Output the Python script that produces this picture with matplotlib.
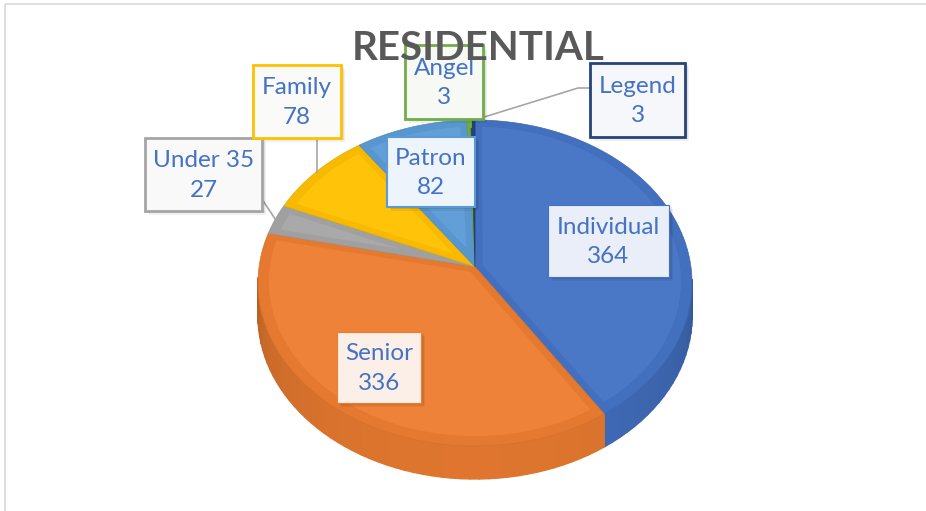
import numpy as np
import matplotlib.pyplot as plt
from matplotlib.collections import PolyCollection
from matplotlib.colors import to_rgb
from matplotlib.patches import Polygon, Rectangle

# data
categories = ["Individual", "Senior", "Under 35", "Family", "Patron", "Angel", "Legend"]
values = [364, 336, 27, 78, 82, 3, 3]
slice_colors = ["#4472C4", "#ED7D31", "#A5A5A5", "#FFC000", "#5B9BD5", "#70AD47", "#264478"]
title = "RESIDENTIAL"

# layout (pixels, origin top-left)
W, H = 926, 511
CX, CY, RX, RY = 475, 283, 217, 163
DEPTH = 33
TILT = 0.1

# label boxes: x0, y0, x1, y1
label_boxes = [
    (548, 205, 669, 277),
    (337, 332, 421, 403),
    (145, 138, 262, 211),
    (253, 65, 341, 138),
    (387, 137, 475, 207),
    (405, 45, 483, 119),
    (590, 63, 685, 137),
]
box_fills = ["#E9EEF8", "#FBEFE8", "#F9F9F9", "#FAFAF8", "#EEF4FB", "#F6F9F4", "#F5F7FB"]
box_edges = ["#4472C4", "#ED7D31", "#A5A5A5", "#FFC000", "#5B9BD5", "#70AD47", "#264478"]
box_lw = [0.8, 0.8, 2.0, 2.0, 1.5, 2.0, 2.0]
leader = [False, False, True, True, False, True, True]

LABEL_COLOR = "#4472C4"
FONT = "Lato"


def project(u, v):
    """circle plane (u right, v far) -> image pixels with a bit of perspective"""
    den = 1 + TILT * v
    X = np.sqrt(1 - TILT ** 2) * u / den
    Y = (v + TILT) / den
    return CX + RX * X, CY - RY * Y, Y


def shade(color, f):
    r, g, b = to_rgb(color)
    return (r * f, g * f, b * f)


def lighten(color, t):
    r, g, b = to_rgb(color)
    return (r + (1 - r) * t, g + (1 - g) * t, b + (1 - b) * t)


fig = plt.figure(figsize=(W / 100, H / 100), dpi=100)
ax = fig.add_axes([0, 0, 1, 1])
ax.set_xlim(0, W)
ax.set_ylim(H, 0)
ax.axis("off")

ax.add_patch(Rectangle((5, 4), W, H, fill=False, edgecolor="#D9D9D9", linewidth=1.2))

total = float(sum(values))
bounds = np.concatenate([[0], np.cumsum(values)]) / total * 2 * np.pi

# front wall
quads = []
quad_colors = []
for i in range(len(values)):
    th = np.linspace(bounds[i], bounds[i + 1], 60)
    x, y, Y = project(np.sin(th), np.cos(th))
    for k in range(len(th) - 1):
        if Y[k] > 0.005 and Y[k + 1] > 0.005:
            continue
        quads.append([(x[k], y[k]), (x[k + 1], y[k + 1]),
                      (x[k + 1], y[k + 1] + DEPTH), (x[k], y[k] + DEPTH)])
        ang = np.arctan2(-(y[k] - CY) / RY, (x[k] - CX) / RX)
        f = 0.76 + 0.18 * max(0.0, -np.sin(ang)) ** 0.6
        quad_colors.append(shade(slice_colors[i], f))
ax.add_collection(PolyCollection(quads, facecolors=quad_colors,
                                 edgecolors=quad_colors, linewidths=1.0))

# top faces
apex_x, apex_y, _ = project(0.0, 0.0)
for i in range(len(values)):
    th = np.linspace(bounds[i], bounds[i + 1], 120)
    x, y, _ = project(np.sin(th), np.cos(th))
    pts = [(apex_x, apex_y)] + list(zip(x, y))
    ax.add_patch(Polygon(pts, closed=True, facecolor=shade(slice_colors[i], 0.97),
                         edgecolor=shade(slice_colors[i], 0.9), linewidth=0.5))

    # soft bevel: slightly lighter inner part of the slice
    half = (bounds[i + 1] - bounds[i]) / 2
    if half < 0.05:
        continue
    w = 0.035
    mid = bounds[i] + half
    off = min(w / np.sin(half), 0.5)
    r_in = 0.95
    d = np.arcsin(w / r_in)
    th_in = np.linspace(bounds[i] + d, bounds[i + 1] - d, 120)
    xi, yi, _ = project(r_in * np.sin(th_in), r_in * np.cos(th_in))
    ax_, ay_, _ = project(off * np.sin(mid), off * np.cos(mid))
    pts = [(ax_, ay_)] + list(zip(xi, yi))
    ax.add_patch(Polygon(pts, closed=True, facecolor=lighten(slice_colors[i], 0.04),
                         edgecolor="none"))

# leader lines
for i in range(len(values)):
    if not leader[i]:
        continue
    mid = (bounds[i] + bounds[i + 1]) / 2
    ex, ey, _ = project(np.sin(mid), np.cos(mid))
    x0, y0, x1, y1 = label_boxes[i]
    lc = "#A6A6A6" if i != 5 else "#70AD47"
    if i == 3:
        ax.plot([ex, ex], [y1, ey], color=lc, lw=1.2, zorder=3)
    elif i == 2:
        ax.plot([x1, ex], [y1 - 12, ey], color=lc, lw=1.2, zorder=3)
    elif i == 5:
        ax.plot([ex + 1, ex + 1], [y1, ey + 6], color=lc, lw=2, zorder=3)
    else:
        ax.plot([x0, x0 - 12, ex + 8], [(y0 + y1) / 2 - 12, (y0 + y1) / 2 - 12, ey - 2],
                color=lc, lw=1.2, zorder=3)

# label boxes
for i, cat in enumerate(categories):
    x0, y0, x1, y1 = label_boxes[i]
    for s, a in [(4, 0.06), (2.5, 0.08), (1.2, 0.10)]:
        ax.add_patch(Rectangle((x0 + s, y0 + s), x1 - x0, y1 - y0, facecolor="black",
                               edgecolor="none", alpha=a, zorder=4))
    ax.add_patch(Rectangle((x0, y0), x1 - x0, y1 - y0, facecolor=box_fills[i],
                           edgecolor=box_edges[i], linewidth=box_lw[i], zorder=5))
    ax.text((x0 + x1) / 2, (y0 + y1) / 2 + 1, f"{cat}\n{values[i]}", ha="center",
            va="center", fontsize=17.5, color=LABEL_COLOR, family=FONT,
            linespacing=1.5, zorder=6)

ax.text(478, 49, title, ha="center", va="center", fontsize=29, fontweight="bold",
        color="#595959", family=FONT, zorder=10)

fig.savefig("out.png", dpi=100)
